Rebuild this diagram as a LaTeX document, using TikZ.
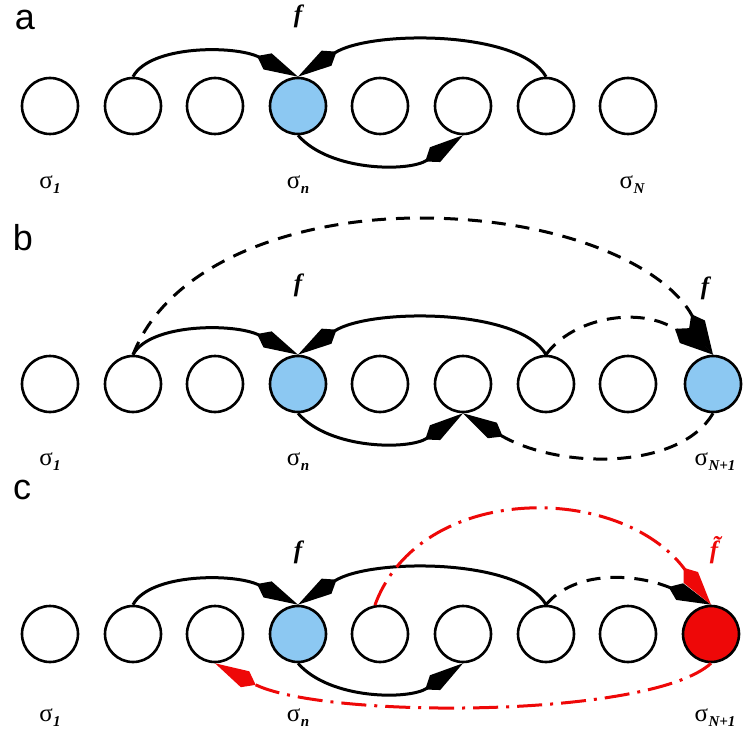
\documentclass[tikz,border=0pt]{standalone}
\usepackage{fontspec}
\setmainfont{Liberation Serif}
\newfontfamily\sansf{Liberation Sans}
\usetikzlibrary{arrows.meta}
\definecolor{cblue}{RGB}{140,200,242}
\definecolor{cred}{RGB}{238,8,8}
\newcommand\sig[1]{σ\kern0.5pt\raisebox{-5pt}{\fontsize{15}{15}\selectfont\bfseries\itshape #1}}
\begin{document}
\begin{tikzpicture}[x=1pt,y=-1pt,
  st/.style={draw, circle, line width=2.6pt, minimum size=56pt, inner sep=0pt},
  conn/.style={line width=3pt},
  kite/.style={-{Kite[length=46pt,width=18pt,inset=12pt]}},
  dsh/.style={dash pattern=on 14pt off 10pt},
  ddot/.style={draw=cred, dash pattern=on 25pt off 8pt on 3pt off 8pt},
  lab/.style={font=\fontsize{25}{25}\selectfont, inner sep=0pt},
  fl/.style={font=\fontsize{25}{25}\selectfont\bfseries\itshape, inner sep=0pt},
  pl/.style={font=\sansf\fontsize{36}{36}\selectfont, inner sep=0pt}]
\useasboundingbox (0,0) rectangle (751,751);

% ---------- panel a ----------
\node[pl] (la) at (25,20) {a};
\foreach \i/\x in {1/50,2/133,3/215,5/380,6/463,7/546,8/628}
  \node[st] (a\i) at (\x,106) {};
\node[st, fill=cblue] (a4) at (298,106) {};
\node[fl] (fa) at (298,16) {f};
\node[lab] (sa1) at (50,185) {\sig{1}};
\node[lab] (san) at (298,185) {\sig{n}};
\node[lab] (saN) at (632,185) {\sig{N}};
\draw[conn,kite] (a2.north) .. controls (150,45) and (235,45) .. (a4.north);
\draw[conn,kite] (a7.north) .. controls (520,30) and (370,30) .. (a4.north);
\draw[conn,kite] (a4.south) .. controls (330,172) and (410,172) .. (a6.south);

% ---------- panel b ----------
\node[pl] (lb) at (23,238) {b};
\foreach \i/\x in {1/50,2/133,3/215,5/380,6/463,7/546,8/628}
  \node[st] (b\i) at (\x,384) {};
\node[st, fill=cblue] (b4) at (298,384) {};
\node[st, fill=cblue] (b9) at (713,384) {};
\node[fl] (fb) at (298,285) {f};
\node[fl] (fb2) at (705,288) {f};
\node[lab] (sb1) at (50,462) {\sig{1}};
\node[lab] (sbn) at (298,462) {\sig{n}};
\node[lab] (sbN) at (715,462) {\sig{N+1}};
\draw[conn,kite] (b2.north) .. controls (150,323) and (235,323) .. (b4.north);
\draw[conn,kite] (b7.north) .. controls (520,308) and (370,308) .. (b4.north);
\draw[conn,kite] (b4.south) .. controls (330,450) and (410,450) .. (b6.south);
\draw[conn,dsh,kite] (b2.north) .. controls (170,260) and (300,218) .. (420,218)
   .. controls (560,218) and (665,265) .. (b9.north);
\draw[conn,dsh,kite] (b7.north) .. controls (572,318) and (640,305) .. (b9.north);
\draw[conn,dsh,kite] (b9.south) .. controls (680,470) and (560,470) .. (b6.south);

% ---------- panel c ----------
\node[pl] (lc) at (22,490) {c};
\foreach \i/\x in {1/50,2/133,3/215,5/380,6/463,7/546,8/628}
  \node[st] (c\i) at (\x,634) {};
\node[st, fill=cblue] (c4) at (298,634) {};
\node[st, fill=cred] (c9) at (711,634) {};
\node[fl] (fc) at (298,552) {f};
\node[fl, text=cred] (fc2) at (714,550) {f̃};
\node[lab] (sc1) at (50,718) {\sig{1}};
\node[lab] (scn) at (298,718) {\sig{n}};
\node[lab] (scN) at (715,718) {\sig{N+1}};
\draw[conn,kite] (c2.north) .. controls (150,573) and (235,573) .. (c4.north);
\draw[conn,kite] (c7.north) .. controls (520,558) and (370,558) .. (c4.north);
\draw[conn,kite] (c4.south) .. controls (330,700) and (410,700) .. (c6.south);
\draw[conn,dsh,kite] (c7.north) .. controls (575,570) and (635,573) .. (c9.north);
\draw[conn,ddot,kite] (c5.100) .. controls (420,482) and (620,482) .. (c9.north);
\draw[conn,ddot,kite] (c9.south) .. controls (650,719) and (320,719) .. (c3.south);
\end{tikzpicture}
\end{document}
